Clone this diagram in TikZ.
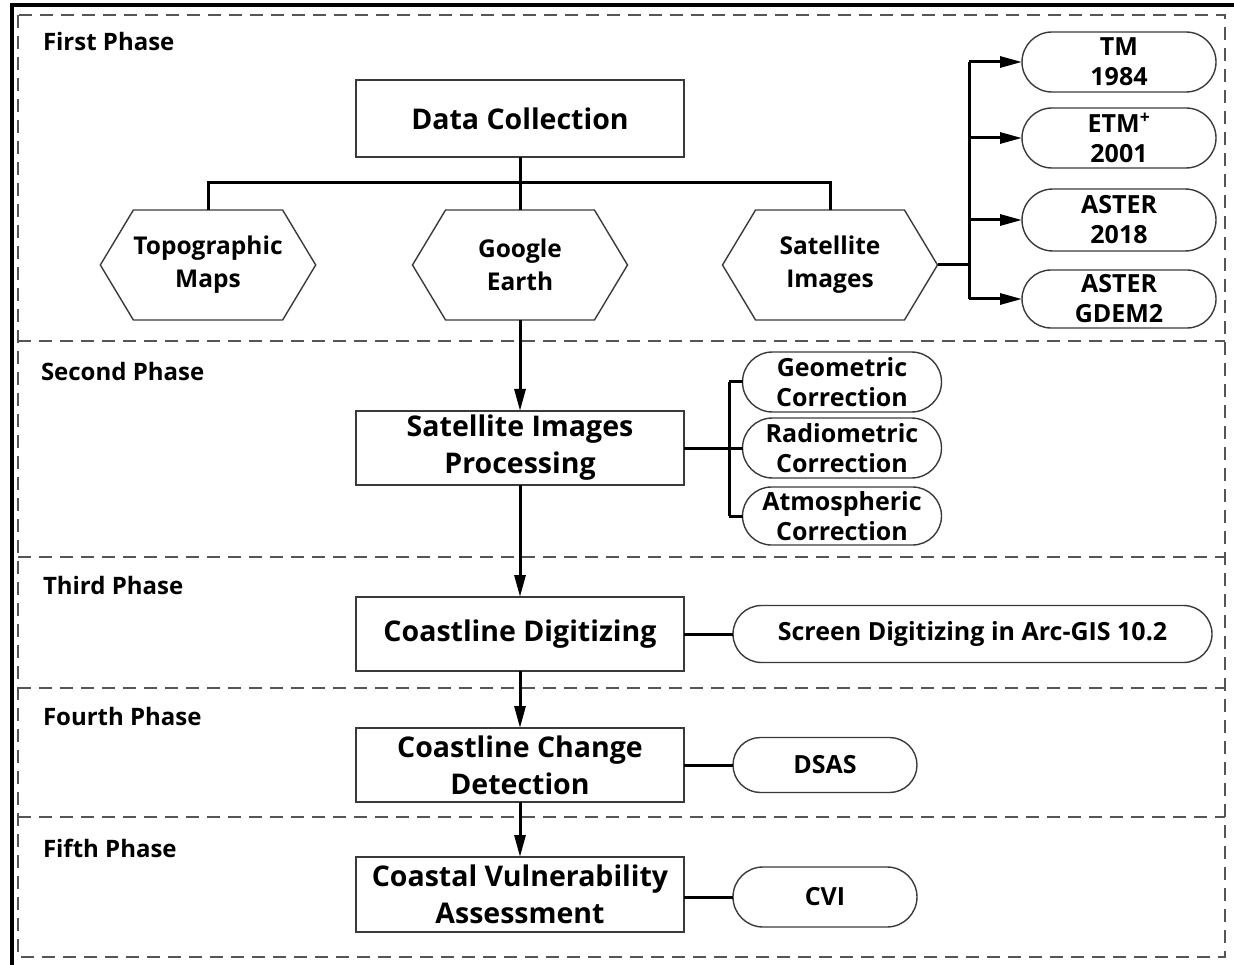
\documentclass[tikz,border=0pt]{standalone}
\usepackage{fontspec}
\setmainfont{Open Sans}
\usetikzlibrary{arrows.meta,shapes.misc,shapes.symbols}
\definecolor{boxline}{HTML}{3A3A3A}
\definecolor{dashgray}{HTML}{555555}
\begin{document}
\begin{tikzpicture}[x=1pt,y=-1pt,
  every node/.style={inner sep=0pt,outer sep=0pt,font=\bfseries},
  phaselabel/.style={anchor=west,font=\bfseries\fontsize{24}{28}\selectfont},
  mainbox/.style={draw=boxline,line width=1.6pt,rectangle,minimum width=328pt,align=center,font=\bfseries\fontsize{28.5}{37}\selectfont},
  hexbox/.style={draw=boxline,line width=1.4pt,signal,signal to=east and west,signal pointer angle=118,minimum width=215pt,minimum height=110pt,align=center,font=\bfseries\fontsize{24.5}{33}\selectfont},
  pillbox/.style={draw=boxline,line width=1.4pt,rounded rectangle,align=center,font=\bfseries\fontsize{25}{30}\selectfont},
  conn/.style={draw=black,line width=3pt},
  arr/.style={conn,-{Triangle[length=22pt,width=11pt]}},
  sep/.style={draw=dashgray,line width=2.2pt,dash pattern=on 13pt off 8pt}]
\useasboundingbox (0,0) rectangle (1234,965);
% outer frame
\draw[line width=4pt] (11.5,965) -- (11.5,5.5) -- (1234,5.5);
\draw[sep] (18,15) rectangle (1225,957);
\draw[sep] (18,341) -- (1225,341);
\draw[sep] (18,557) -- (1225,557);
\draw[sep] (18,688) -- (1225,688);
\draw[sep] (18,817) -- (1225,817);
% phase labels
\node[phaselabel] (p1) at (43,42) {First Phase};
\node[phaselabel] (p2) at (41,372) {Second Phase};
\node[phaselabel] (p3) at (43,585) {Third Phase};
\node[phaselabel] (p4) at (43,716) {Fourth Phase};
\node[phaselabel] (p5) at (43,848) {Fifth Phase};
% first phase
\node[mainbox,minimum height=77pt] (dc) at (520,118.5) {Data Collection};
\node[hexbox] (topo) at (208,265) {Topographic\\Maps};
\node[hexbox] (ge) at (520,265) {Google\\Earth};
\node[hexbox] (sat) at (830,265) {Satellite\\Images};
\node[pillbox,minimum width=194pt,minimum height=60pt] (tm) at (1119,62) {TM\\1984};
\node[pillbox,minimum width=194pt,minimum height=60pt] (etm) at (1119,138) {ETM\textsuperscript{+}\\2001};
\node[pillbox,minimum width=194pt,minimum height=62pt] (aster) at (1119,220) {ASTER\\2018};
\node[pillbox,minimum width=194pt,minimum height=58pt] (gdem) at (1119,299) {ASTER\\GDEM2};
\coordinate (hb) at (520,183);
\coordinate (sb) at (969,265);
\draw[conn] (dc.south) -- (ge.north);
\draw[conn] (topo.north) -- (topo.north |- hb) -- (sat.north |- hb) -- (sat.north);
\draw[conn] (sat.east) -- (sb);
\draw[conn] (sb |- tm.west) -- (sb |- gdem.west);
\draw[arr] (sb |- tm.west) -- (tm.west);
\draw[arr] (sb |- etm.west) -- (etm.west);
\draw[arr] (sb |- aster.west) -- (aster.west);
\draw[arr] (sb |- gdem.west) -- (gdem.west);
% second phase
\node[mainbox,minimum height=74pt] (sip) at (520,448) {Satellite Images\\Processing};
\node[pillbox,minimum width=199pt,minimum height=60pt] (geo) at (842,382) {Geometric\\Correction};
\node[pillbox,minimum width=199pt,minimum height=60pt] (rad) at (842,448) {Radiometric\\Correction};
\node[pillbox,minimum width=199pt,minimum height=58pt] (atm) at (842,516) {Atmospheric\\Correction};
\coordinate (cb) at (729,448);
\draw[arr] (ge.south) -- (sip.north);
\draw[conn] (sip.east) -- (cb);
\draw[conn] (cb |- geo.west) -- (cb |- atm.west);
\draw[conn] (cb |- geo.west) -- (geo.west);
\draw[conn] (cb |- rad.west) -- (rad.west);
\draw[conn] (cb |- atm.west) -- (atm.west);
% third phase
\node[mainbox,minimum height=74pt] (cd) at (520,634) {Coastline Digitizing};
\node[pillbox,minimum width=479pt,minimum height=57pt] (scr) at (972.5,634) {Screen Digitizing in Arc-GIS 10.2};
\draw[arr] (sip.south) -- (cd.north);
\draw[conn] (cd.east) -- (scr.west);
% fourth phase
\node[mainbox,minimum height=74pt] (ccd) at (520,765) {Coastline Change\\Detection};
\node[pillbox,minimum width=184pt,minimum height=55pt] (dsas) at (825,765) {DSAS};
\draw[arr] (cd.south) -- (ccd.north);
\draw[conn] (ccd.east) -- (dsas.west);
% fifth phase
\node[mainbox,minimum height=75pt] (cva) at (520,894.5) {Coastal Vulnerability\\Assessment};
\node[pillbox,minimum width=184pt,minimum height=60pt] (cvi) at (825,897) {CVI};
\draw[arr] (ccd.south) -- (cva.north);
\draw[conn] (cva.east |- cvi.west) -- (cvi.west);
\end{tikzpicture}
\end{document}
